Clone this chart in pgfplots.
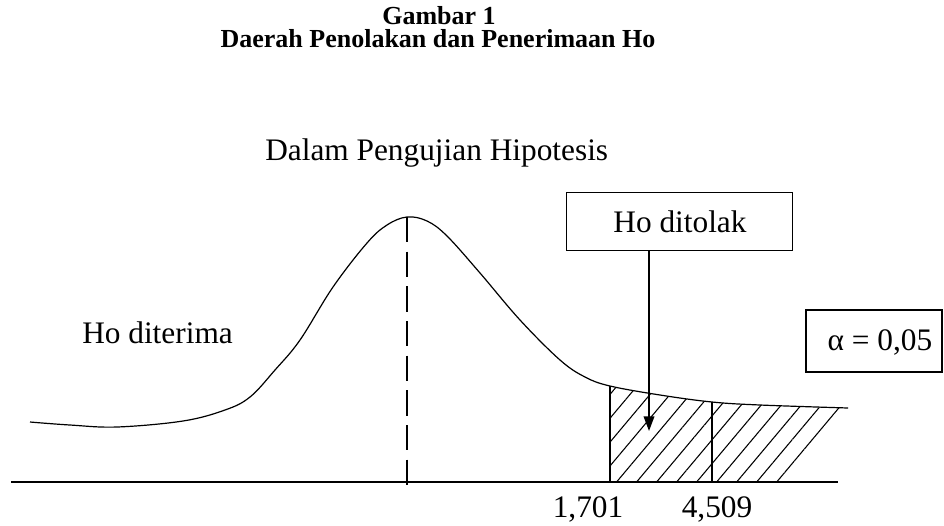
\documentclass[border=0pt]{standalone}
\usepackage{fontspec}
\setmainfont{Liberation Serif}
\usepackage{pgfplots}
\pgfplotsset{compat=1.18}
\usetikzlibrary{patterns.meta,arrows.meta}
\begin{document}
\begin{tikzpicture}
\begin{axis}[
  width=708pt, height=393.75pt, scale only axis,
  xmin=0, xmax=944, ymin=0, ymax=525, y dir=reverse,
  hide axis, clip=false]
% hatched rejection area
\addplot[draw=none, pattern={Lines[angle=50,distance=11.5pt,line width=0.8pt]}]
  coordinates {(610,482) (610,386) (635,391) (660,395) (686,399) (712,402) (736,404) (760,405) (800,407) (848,408) (793,482)} -- cycle;
% curve
\addplot[black, line width=0.9pt, smooth, tension=0.6] coordinates {
  (30,422) (70,425) (117,427) (183,421) (225,410) (250,397) (275,370) (300,340) (333,287) (367,243) (387,225) (407,217)
  (427,221) (447,236) (480,273) (520,320) (560,360) (585,377) (610,386) (660,395) (712,402) (760,405) (848,408)};
% base line
\addplot[black, line width=1.2pt] coordinates {(11,482) (838,482)};
% dashed centre line
\addplot[black, line width=1pt, dash pattern=on 19pt off 7pt] coordinates {(407,217) (407,486)};
% critical lines
\addplot[black, line width=1pt] coordinates {(610,386) (610,482)};
\addplot[black, line width=1pt] coordinates {(712,402) (712,482)};
% arrow
\addplot[black, line width=1.1pt, -{Triangle[length=11pt,width=8pt]}] coordinates {(649,251) (649,431)};
% texts
\node[anchor=base, inner sep=0pt, font=\bfseries\fontsize{19.5}{22}\selectfont] at (axis cs:439,24) {Gambar 1};
\node[anchor=base, inner sep=0pt, font=\bfseries\fontsize{19.5}{22}\selectfont] at (axis cs:438,47) {Daerah Penolakan dan Penerimaan Ho};
\node[anchor=base west, inner sep=0pt, font=\fontsize{23.5}{26}\selectfont] at (axis cs:265,160) {Dalam Pengujian Hipotesis};
\node[anchor=base west, inner sep=0pt, font=\fontsize{23.5}{26}\selectfont] at (axis cs:82,343) {Ho diterima};
\node[draw, line width=0.9pt, minimum width=169.5pt, minimum height=44pt, inner sep=0pt] at (axis cs:679.5,221.5) {};
\node[anchor=base, inner sep=0pt, font=\fontsize{23.5}{26}\selectfont] at (axis cs:680,232) {Ho ditolak};
\node[draw, line width=0.9pt, minimum width=102pt, minimum height=46.5pt, inner sep=0pt] at (axis cs:874,341) {};
\node[anchor=base, inner sep=0pt, font=\fontsize{23.5}{26}\selectfont] at (axis cs:880,350) {α = 0,05};
\node[anchor=base, inner sep=0pt, font=\fontsize{23.5}{26}\selectfont] at (axis cs:588,517) {1,701};
\node[anchor=base, inner sep=0pt, font=\fontsize{23.5}{26}\selectfont] at (axis cs:717,517) {4,509};
\end{axis}
\pgfresetboundingbox
\path (current axis.south west) rectangle (current axis.north east);
\end{tikzpicture}
\end{document}
